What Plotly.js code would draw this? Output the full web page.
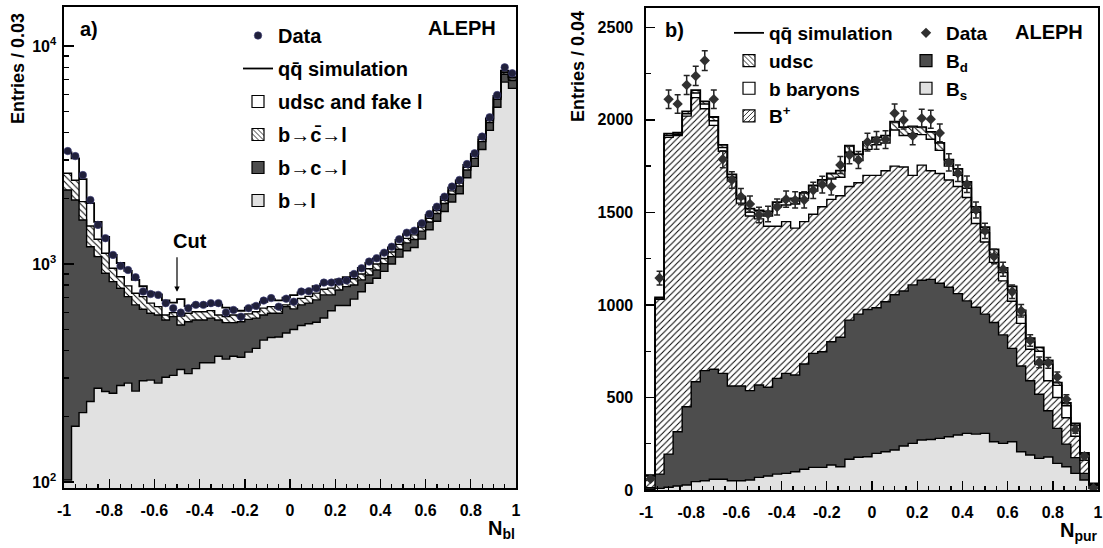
<!DOCTYPE html>
<html><head><meta charset="utf-8">
<script src="https://cdn.plot.ly/plotly-3.0.1.min.js"></script>
<style>html,body{margin:0;padding:0;background:#fff}#chart{width:1103px;height:548px}</style>
</head><body><div id="chart"></div>
<script>
// ---------- Panel a) : N_bl, 60 bins on [-1, 1], log scale ----------
const aNbins = 60;
const aData = [3296, 3125, 2558, 1966, 1511, 1313, 1100, 979, 938, 869, 747, 728, 721, 661, 627, 598, 627, 649, 649, 661,
  661, 598, 615, 573, 627, 642, 679, 697, 637, 693, 671, 747, 750, 774, 821, 821, 830, 840, 900, 956,
  1025, 1062, 1127, 1200, 1298, 1392, 1422, 1537, 1695, 1832, 2036, 2264, 2430, 2875, 3220, 3840, 4710, 5960, 7980, 7500];
// stack tops (cumulative): qq simulation total, b->cbar->l, b->c->l, b->l
const aTotal = [3250, 3050, 2450, 1900, 1560, 1330, 1100, 1010, 930, 845, 790, 740, 725, 680, 665, 690, 640, 650, 640, 660,
  650, 630, 620, 610, 630, 650, 670, 690, 680, 700, 720, 740, 760, 790, 810, 830, 850, 870, 910, 960,
  1010, 1060, 1120, 1190, 1290, 1370, 1430, 1540, 1680, 1820, 2030, 2240, 2420, 2850, 3200, 3820, 4650, 5900, 7700, 7200];
const aCbarTop = [2608, 2420, 1932, 1494, 1298, 1119, 956, 874, 793, 734, 708, 661, 637, 583, 598, 577, 594, 604, 604, 611,
  583, 573, 583, 577, 590, 604, 627, 637, 627, 649, 670, 695, 710, 735, 765, 775, 805, 830, 855, 900,
  950, 1000, 1060, 1135, 1230, 1310, 1360, 1475, 1620, 1760, 1960, 2165, 2350, 2775, 3125, 3730, 4550, 5800, 7560, 7070];
const aBclTop = [2183, 1966, 1592, 1200, 1081, 906, 830, 774, 708, 649, 620, 594, 583, 553, 573, 525, 543, 553, 553, 564,
  553, 538, 538, 543, 557, 564, 583, 594, 594, 637, 622, 649, 661, 684, 721, 721, 760, 787, 801, 845,
  890, 938, 1003, 1080, 1168, 1250, 1294, 1414, 1559, 1704, 1893, 2090, 2280, 2700, 3050, 3640, 4460, 5700, 7420, 6950];
const aBl = [102, 180, 208, 234, 269, 260, 255, 277, 284, 261, 291, 293, 284, 302, 308, 328, 314, 331, 352, 352,
  377, 366, 377, 373, 394, 410, 447, 460, 462, 482, 500, 522, 532, 540, 565, 610, 645, 645, 690, 745,
  815, 860, 925, 1000, 1075, 1150, 1190, 1300, 1435, 1570, 1740, 1925, 2100, 2485, 2805, 3350, 4100, 5240, 6830, 6390];
const aXTickVals = [-1, -0.8, -0.6, -0.4, -0.2, 0, 0.2, 0.4, 0.6, 0.8, 1];
const aXTickText = ['-1', '-0.8', '-0.6', '-0.4', '-0.2', '0', '0.2', '0.4', '0.6', '0.8', '1'];
const aYTickVals = [100, 1000, 10000];
const aYTickText = ['10<sup>2</sup>', '10<sup>3</sup>', '10<sup>4</sup>'];
const aYMinor = [200, 300, 400, 500, 600, 700, 800, 900, 2000, 3000, 4000, 5000, 6000, 7000, 8000, 9000];
const aCut = -0.5;

// ---------- Panel b) : N_pur, 50 bins on [-1, 1], linear ----------
const bNbins = 50;
const bData = [60, 1145, 2111, 2086, 2188, 2237, 2320, 2111, 1787, 1675, 1585, 1545, 1486, 1491, 1529, 1571, 1567, 1567, 1619, 1650,
  1639, 1756, 1810, 1783, 1880, 1889, 1893, 2035, 1999, 1913, 2008, 2003, 1929, 1770, 1711, 1652, 1513, 1400, 1261, 1193,
  1071, 968, 808, 690, 687, 610, 490, 326, 183, 10];
const bErr = [9, 37, 50, 50, 51, 52, 53, 50, 46, 45, 44, 43, 42, 42, 43, 44, 44, 44, 44, 45,
  45, 46, 47, 46, 48, 48, 48, 50, 49, 48, 49, 49, 48, 46, 45, 45, 43, 41, 39, 38,
  36, 34, 31, 29, 29, 27, 24, 20, 15, 4];
// stack tops (cumulative): total (udsc on top), b baryons, B+, Bd, Bs
const bTotal = [80, 1040, 1925, 1930, 2045, 2160, 2100, 2015, 1865, 1705, 1585, 1520, 1510, 1505, 1555, 1570, 1575, 1605, 1645, 1675,
  1710, 1725, 1860, 1815, 1880, 1905, 1915, 1990, 1960, 1965, 1960, 1935, 1875, 1785, 1735, 1665, 1530, 1420, 1300, 1200,
  1100, 970, 820, 770, 700, 580, 470, 360, 200, 35];
const bBaryonTop = [78, 1032, 1915, 1922, 2033, 2145, 2085, 1995, 1850, 1690, 1573, 1500, 1490, 1480, 1530, 1540, 1545, 1575, 1615, 1645,
  1680, 1690, 1825, 1780, 1840, 1865, 1875, 1945, 1915, 1925, 1920, 1895, 1835, 1750, 1700, 1630, 1500, 1390, 1270, 1175,
  1075, 945, 800, 750, 680, 565, 455, 350, 192, 33];
const bBplusTop = [75, 1030, 1905, 1915, 2020, 2120, 2060, 1970, 1830, 1670, 1550, 1480, 1465, 1425, 1425, 1450, 1415, 1450, 1490, 1530,
  1570, 1590, 1640, 1660, 1700, 1700, 1725, 1750, 1745, 1700, 1755, 1725, 1710, 1675, 1640, 1580, 1440, 1340, 1230, 1130,
  1020, 900, 760, 680, 590, 500, 390, 290, 160, 30];
const bBdTop = [12, 86, 194, 315, 450, 585, 645, 652, 630, 562, 562, 537, 567, 555, 603, 630, 621, 681, 738, 747,
  801, 825, 918, 950, 975, 985, 1017, 1055, 1075, 1108, 1133, 1138, 1117, 1095, 1061, 1022, 987, 950, 905, 838,
  765, 670, 590, 517, 428, 333, 248, 175, 90, 25];
const bBs = [3, 9, 15, 22, 27, 45, 50, 58, 58, 50, 50, 54, 68, 76, 86, 90, 99, 112, 122, 122,
  135, 126, 166, 177, 180, 198, 207, 216, 238, 252, 270, 273, 279, 288, 297, 306, 302, 306, 261, 252,
  261, 207, 189, 171, 178, 144, 126, 90, 54, 9];
const bYTickVals = [0, 500, 1000, 1500, 2000, 2500];
const bYMinor = [250, 750, 1250, 1750, 2250];

// ---------- helpers ----------
const FONT = 'Liberation Sans, Arial, Helvetica, sans-serif';
const W = 1103, H = 548;
const PX = v => v / W, PY = v => 1 - v / H;
const DARK = '#4d4d4d', LIGHT = '#e1e1e1';
const hatch = s => ({shape: s, fgcolor: 'black', bgcolor: 'white', size: 4.4, solidity: 0.22, fillmode: 'replace'});
const noPat = {shape: ''};
const edges = n => Array.from({length: n + 1}, (_, i) => -1 + 2 * i / n);
const centers = n => Array.from({length: n}, (_, i) => -1 + (2 * i + 1) / n);
const stepY = v => v.concat([v[v.length - 1]]);

function fill(vals, n, xa, ya, color, pattern) {
  return {type: 'bar', x: centers(n), y: vals, width: 2 / n, xaxis: xa, yaxis: ya,
    marker: {color: color, line: {width: 0}, pattern: pattern || noPat}, showlegend: false, hoverinfo: 'skip'};
}
function outline(vals, n, xa, ya, w, extra) {
  return Object.assign({type: 'scatter', mode: 'lines', x: edges(n), y: stepY(vals), xaxis: xa, yaxis: ya,
    line: {shape: 'hv', color: 'black', width: w || 1.4}, showlegend: false, hoverinfo: 'skip'}, extra || {});
}
function legBox(name, legend, rank, color, pattern, xa, ya) {
  const t = {type: 'bar', x: [null], y: [null], xaxis: xa, yaxis: ya, name: name, legend: legend, legendrank: rank,
    marker: {color: color, line: {color: 'black', width: 1.2}, pattern: pattern || noPat},
    showlegend: true, hoverinfo: 'skip'};
  if (legend === 'legend') t.legendgroup = 'a' + rank;
  return t;
}

const traces = [
  // panel a fills
  fill(aTotal, aNbins, 'x', 'y', 'white'),
  fill(aCbarTop, aNbins, 'x', 'y', 'white', hatch('\\')),
  fill(aBclTop, aNbins, 'x', 'y', DARK),
  fill(aBl, aNbins, 'x', 'y', LIGHT),
  outline(aBl, aNbins, 'x', 'y'),
  outline(aBclTop, aNbins, 'x', 'y'),
  outline(aCbarTop, aNbins, 'x', 'y'),
  outline(aTotal, aNbins, 'x', 'y', 1.8, {showlegend: true, name: 'qq\u0304 simulation', legend: 'legend', legendrank: 2, legendgroup: 'a2'}),
  {type: 'scatter', mode: 'markers', x: centers(aNbins), y: aData, xaxis: 'x', yaxis: 'y', name: 'Data',
   legend: 'legend', legendrank: 1, legendgroup: 'a1',
   marker: {symbol: 'circle', size: 7.5, color: '#20203a', line: {color: '#3b3b7a', width: 0.6}}, hoverinfo: 'skip'},
  legBox('udsc and fake l', 'legend', 3, 'white', null, 'x', 'y'),
  legBox('b\u2192c\u0304\u2192l', 'legend', 4, 'white', hatch('\\'), 'x', 'y'),
  legBox('b\u2192c\u2192l', 'legend', 5, DARK, null, 'x', 'y'),
  legBox('b\u2192l', 'legend', 6, LIGHT, null, 'x', 'y'),

  // panel b fills
  fill(bTotal, bNbins, 'x2', 'y2', 'white', hatch('\\')),
  fill(bBaryonTop, bNbins, 'x2', 'y2', 'white'),
  fill(bBplusTop, bNbins, 'x2', 'y2', 'white', hatch('/')),
  fill(bBdTop, bNbins, 'x2', 'y2', DARK),
  fill(bBs, bNbins, 'x2', 'y2', LIGHT),
  outline(bBs, bNbins, 'x2', 'y2'),
  outline(bBdTop, bNbins, 'x2', 'y2'),
  outline(bBplusTop, bNbins, 'x2', 'y2'),
  outline(bBaryonTop, bNbins, 'x2', 'y2'),
  outline(bTotal, bNbins, 'x2', 'y2', 1.8, {showlegend: true, name: 'qq\u0304 simulation', legend: 'legend2', legendrank: 1}),
  {type: 'scatter', mode: 'markers', x: centers(bNbins), y: bData, xaxis: 'x2', yaxis: 'y2', name: 'Data',
   legend: 'legend3', legendrank: 1,
   error_y: {type: 'data', array: bErr, visible: true, color: '#222', thickness: 1.5, width: 3},
   marker: {symbol: 'diamond', size: 8, color: '#303030'}, hoverinfo: 'skip'},
  legBox('udsc', 'legend2', 2, 'white', hatch('\\'), 'x2', 'y2'),
  legBox('b baryons', 'legend2', 3, 'white', null, 'x2', 'y2'),
  legBox('B<sup>+</sup>', 'legend2', 4, 'white', hatch('/'), 'x2', 'y2'),
  legBox('B<sub>d</sub>', 'legend3', 2, DARK, null, 'x2', 'y2'),
  legBox('B<sub>s</sub>', 'legend3', 3, LIGHT, null, 'x2', 'y2')
];

const tickFont = {family: FONT, size: 16, color: 'black', weight: 'bold'};
const baseAxis = {showline: true, linecolor: 'black', linewidth: 1.6, mirror: true, ticks: 'inside',
  tickcolor: 'black', tickwidth: 1.4, showgrid: false, zeroline: false, tickfont: tickFont, fixedrange: true};
const xAxisCommon = Object.assign({}, baseAxis, {range: [-1, 1], tickmode: 'array', tickvals: aXTickVals, ticktext: aXTickText,
  ticklen: 9, ticklabelstandoff: 7,
  minor: {tickmode: 'linear', tick0: -1, dtick: 0.05, ticks: 'inside', ticklen: 4.5, tickwidth: 1.2, tickcolor: 'black', showgrid: false}});

const legendBase = {bgcolor: 'rgba(0,0,0,0)', borderwidth: 0, xanchor: 'left', yanchor: 'top',
  font: {family: FONT, size: 20, color: 'black', weight: 'bold'}, itemclick: false, itemdoubleclick: false};
const legFontR = {family: FONT, size: 19, color: 'black', weight: 'bold'};

const ann = (text, x, y, opts) => Object.assign({text: text, xref: 'paper', yref: 'paper', x: PX(x), y: PY(y),
  showarrow: false, font: {family: FONT, size: 20, color: 'black', weight: 'bold'}, xanchor: 'center', yanchor: 'middle'}, opts || {});

const layout = {
  width: W, height: H, margin: {l: 0, r: 0, t: 0, b: 0}, paper_bgcolor: 'white', plot_bgcolor: 'white',
  barmode: 'overlay', bargap: 0, showlegend: true, hovermode: false,
  xaxis: Object.assign({}, xAxisCommon, {domain: [PX(64), PX(516)], anchor: 'y'}),
  yaxis: Object.assign({}, baseAxis, {domain: [PY(488), PY(7)], anchor: 'x', type: 'log', range: [1.972, 4.179],
    tickmode: 'array', tickvals: aYTickVals, ticktext: aYTickText, ticklen: 10, ticklabelstandoff: 3,
    minor: {tickmode: 'array', tickvals: aYMinor, ticks: 'inside', ticklen: 5, tickwidth: 1.2, tickcolor: 'black', showgrid: false}}),
  xaxis2: Object.assign({}, xAxisCommon, {domain: [PX(646), PX(1098)], anchor: 'y2'}),
  yaxis2: Object.assign({}, baseAxis, {domain: [PY(490), PY(8)], anchor: 'x2', range: [0, 2604],
    tickmode: 'array', tickvals: bYTickVals, ticklen: 9, ticklabelstandoff: 8,
    minor: {tickmode: 'array', tickvals: bYMinor, ticks: 'inside', ticklen: 4.5, tickwidth: 1.2, tickcolor: 'black', showgrid: false}}),
  legend: Object.assign({}, legendBase, {x: PX(238), y: PY(16), tracegroupgap: 4}),
  legend2: Object.assign({}, legendBase, {x: PX(729), y: PY(14), font: legFontR, tracegroupgap: 0}),
  legend3: Object.assign({}, legendBase, {x: PX(906), y: PY(14), font: legFontR, tracegroupgap: 0}),
  annotations: [
    ann('a)', 89, 29),
    ann('ALEPH', 462, 28),
    ann('b)', 674, 30),
    ann('ALEPH', 1049, 32),
    ann('Entries / 0.03', 18, 69, {textangle: -90, font: {family: FONT, size: 18, color: 'black', weight: 'bold'}}),
    ann('Entries / 0.04', 578, 67, {textangle: -90, font: {family: FONT, size: 18, color: 'black', weight: 'bold'}}),
    ann('N<sub>bl</sub>', 517, 529, {xanchor: 'right'}),
    ann('N<sub>pur</sub>', 1100, 531, {xanchor: 'right'}),
    ann('Cut', 171, 241, {xanchor: 'left'}),
    {text: '', xref: 'x', yref: 'y', axref: 'x', ayref: 'y', x: aCut, y: Math.log10(745), ax: aCut, ay: Math.log10(1090),
     showarrow: true, arrowhead: 2, arrowsize: 0.9, arrowwidth: 1.2, arrowcolor: 'black', standoff: 0, startstandoff: 0}
  ]
};

Plotly.newPlot('chart', traces, layout, {displayModeBar: false, staticPlot: true});
</script>
</body></html>
